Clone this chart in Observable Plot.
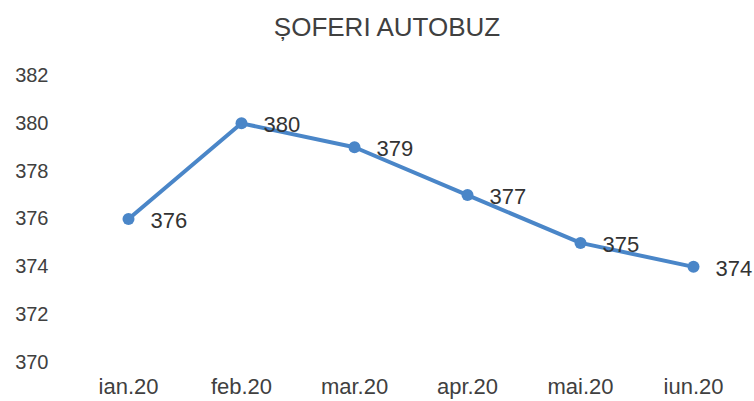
<!DOCTYPE html>
<html><head><meta charset="utf-8">
<script src="https://cdn.jsdelivr.net/npm/d3@7"></script>
<script src="https://cdn.jsdelivr.net/npm/@observablehq/plot@0.6"></script>
<style>
body{margin:0;background:#fff;font-family:"Liberation Sans",Arial,sans-serif;}
#title{height:50px;line-height:54px;text-align:center;font-size:26px;color:#404040;padding-left:20px;}
</style></head>
<body>
<div id="title">ȘOFERI AUTOBUZ</div>
<div id="chart"></div>
<script>
const months = ["ian.20","feb.20","mar.20","apr.20","mai.20","iun.20"];
const values = [376,380,379,377,375,374];
const yTicks = [370,372,374,376,378,380,382];
const data = months.map((m,i)=>({m, v: values[i]}));
const color = "#4a86c8";
const chart = Plot.plot({
  width: 754, height: 351,
  marginLeft: 128, marginRight: 61, marginTop: 25, marginBottom: 39,
  style: {fontFamily: '"Liberation Sans", Arial, sans-serif', background: "#fff"},
  x: {type: "point", domain: months, padding: 0, label: null},
  y: {domain: [370,382], label: null},
  marks: [
    Plot.axisY({ticks: yTicks, tickSize: 0, tickPadding: 80, fontSize: 20, color: "#404040", label: null}),
    Plot.axisX({tickSize: 0, tickPadding: 16, fontSize: 22, color: "#404040", label: null}),
    Plot.line(data, {x: "m", y: "v", stroke: color, strokeWidth: 4, strokeLinejoin: "round"}),
    Plot.dot(data, {x: "m", y: "v", fill: color, r: 6}),
    Plot.text(data, {x: "m", y: "v", text: d => String(d.v), dx: 22, dy: 2, textAnchor: "start", fontSize: 22, fill: "#333"})
  ]
});
document.getElementById("chart").appendChild(chart);
</script>
</body></html>
